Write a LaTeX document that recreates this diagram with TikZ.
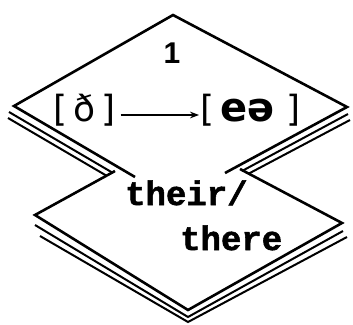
\documentclass[tikz,border=0pt]{standalone}
\usepackage{fontspec}
\newfontfamily\ipafont{DejaVu Sans}
\newfontfamily\numfont{Liberation Sans}
\newfontfamily\typefont{Liberation Mono Bold}[FakeBold=1.6]
\usetikzlibrary{arrows.meta}

\begin{document}
\begin{tikzpicture}[x=1pt, y=-1pt,
    edge/.style={line width=2.6pt, line join=miter},
    stack/.style={line width=2pt},
    ipa/.style={font=\ipafont\fontsize{36}{36}\selectfont, inner sep=0pt, anchor=base west},
    word/.style={font=\typefont\fontsize{34}{34}\selectfont, inner sep=0pt, anchor=base west}
]
\useasboundingbox (0,0) rectangle (353,324);
% upper card
\draw[edge] (135,177) -- (14,106) -- (173,15) -- (347,107) -- (225,173);
\draw[stack] (9,112) -- (113,173);
\draw[stack] (8,118) -- (107,176);
\draw[stack] (348,114) -- (242,171);
\draw[stack] (350,120) -- (248,174);
% lower card
\draw[edge] (115,171) -- (35,215) -- (188,310) -- (342,223) -- (240,169);
\draw[stack] (35,225) -- (188,317) -- (343,231);
\draw[stack] (40,236) -- (188,322) -- (347,237);
% labels
\node[font=\numfont\bfseries\fontsize{30}{30}\selectfont, inner sep=0pt, anchor=base] (num) at (172,63) {1};
\node[ipa] (lhs) at (53,121) {[\,ð\,]};
\node[ipa] (rhs) at (200,121) {[\,{\fontsize{40}{40}\selectfont\bfseries eə}\hspace{12pt}]};
\draw[-{Stealth[length=9pt]}, line width=1.4pt, shorten <=5pt, shorten >=1pt]
    ([yshift=6pt]lhs.base east) -- ([yshift=6pt]rhs.base west);
\node[word] (their) at (125,205) {their/};
\node[word] (there) at (180,250) {there};
\end{tikzpicture}
\end{document}
